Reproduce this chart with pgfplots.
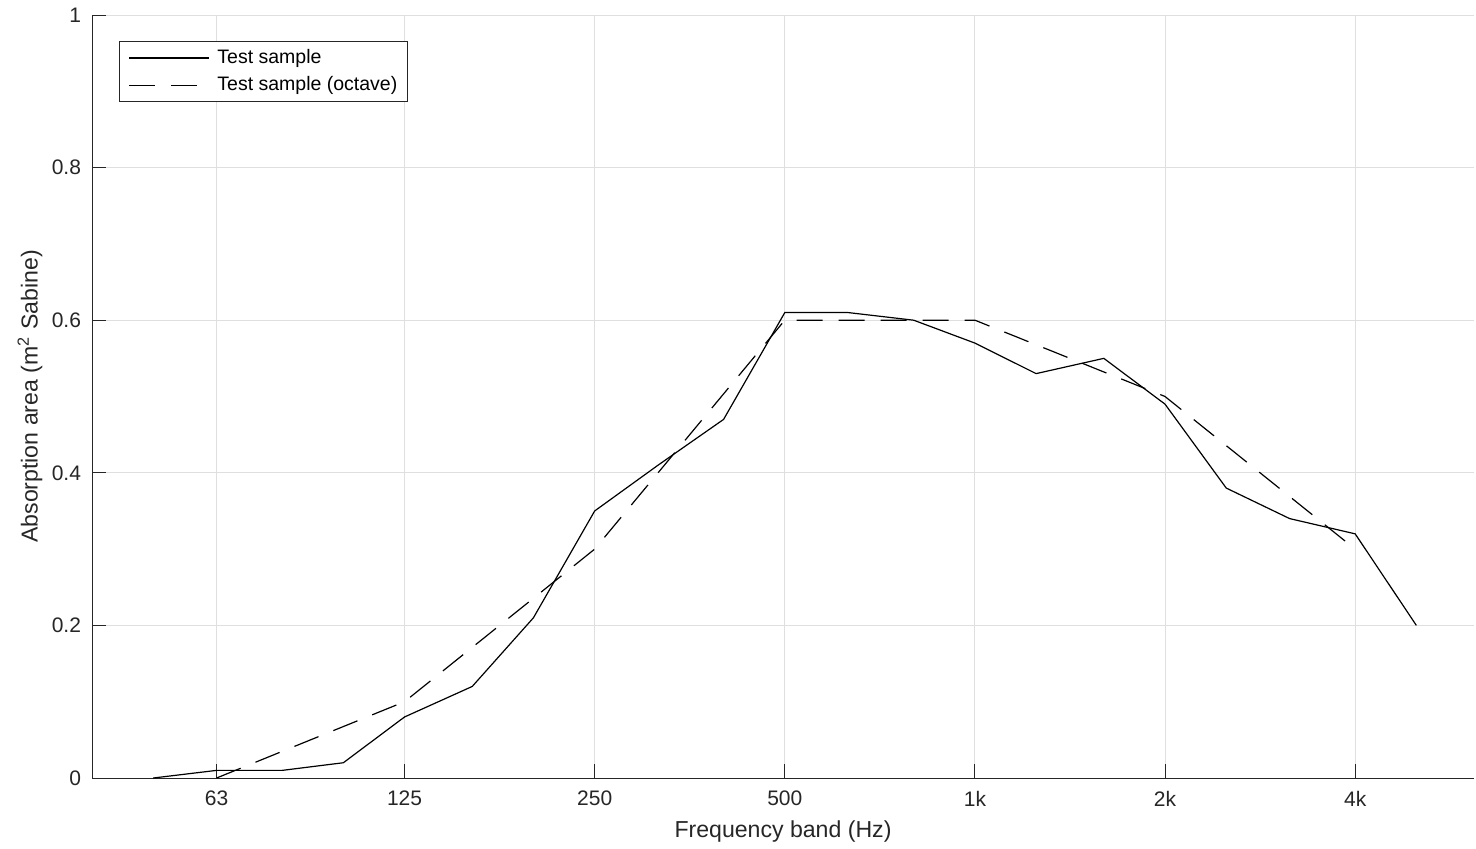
\documentclass[border=0pt]{standalone}
\usepackage{pgfplots}
\pgfplotsset{compat=1.18}
\usepackage{fontspec}
\setmainfont{Liberation Sans}
\definecolor{axgray}{RGB}{38,38,38}
\definecolor{gridgray}{RGB}{223,223,223}
\begin{document}
\begin{tikzpicture}
\path[use as bounding box] (-46pt,-35pt) rectangle (692pt,389pt);
\begin{axis}[
  at={(0,0)}, anchor=south west,
  scale only axis, width=691pt, height=381.5pt,
  xmode=log, xmin=40, xmax=6170, ymin=0, ymax=1,
  axis lines*=left,
  axis line style={axgray, line width=0.5pt},
  xtick={63,125,250,500,1000,2000,4000},
  xticklabels={63,125,250,500,1k,2k,4k},
  ytick={0,0.2,0.4,0.6,0.8,1},
  yticklabels={0,0.2,0.4,0.6,0.8,1},
  minor xtick={},
  log ticks with fixed point,
  tick align=inside, major tick length=7pt,
  tick style={axgray, line width=0.5pt},
  grid=major,
  major grid style={gridgray, line width=0.5pt},
  ticklabel style={font=\fontsize{10.5}{12}\selectfont, text=axgray},
  /pgf/number format/assume math mode=true,
  xticklabel style={yshift=-3pt},
  yticklabel style={xshift=-2pt},
  xlabel={Frequency band (Hz)},
  ylabel={Absorption area (m\textsuperscript{2} Sabine)},
  label style={font=\fontsize{11.55}{13}\selectfont, text=axgray},
  xlabel style={at={(rel axis cs:0.5,-0.0695)}, anchor=center},
  ylabel style={at={(rel axis cs:-0.0449,0.5)}, anchor=center},
  legend style={at={(rel axis cs:0.0195,0.966)}, anchor=north west,
    draw=axgray, line width=0.5pt, font=\fontsize{9.75}{11}\selectfont,
    row sep=1pt, inner xsep=3pt, inner ysep=2pt},
  legend cell align=left,
  legend image code/.code={\draw[#1] (2pt,0pt) -- (42pt,0pt); \path[draw=none] (0pt,0pt) (44pt,0pt);},
]
\addplot[black, line width=0.6pt] coordinates {
(50,0) (63,0.01) (80,0.01) (100,0.02) (125,0.08) (160,0.12) (200,0.21)
(250,0.35) (315,0.41) (400,0.47) (500,0.61) (630,0.61) (800,0.60)
(1000,0.57) (1250,0.53) (1600,0.55) (2000,0.49) (2500,0.38) (3150,0.34)
(4000,0.32) (5000,0.20)};
\addlegendentry{Test sample}
\addplot[black, line width=0.6pt, dash pattern=on 13pt off 8pt] coordinates {
(63,0) (125,0.10) (250,0.30) (500,0.60) (1000,0.60) (2000,0.50) (4000,0.30)};
\addlegendentry{Test sample (octave)}
\end{axis}
\end{tikzpicture}
\end{document}
